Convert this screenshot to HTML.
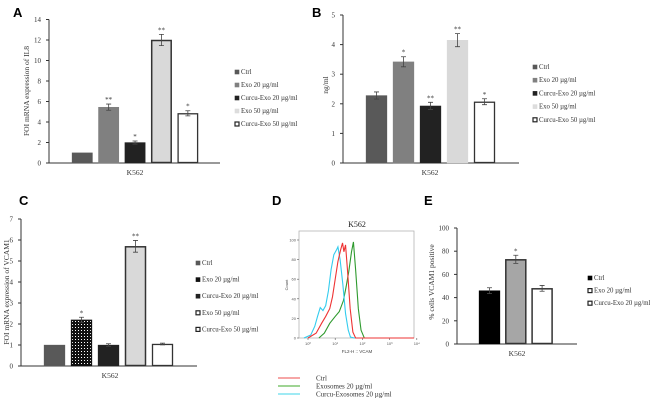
<!DOCTYPE html>
<html><head><meta charset="utf-8"><style>
html,body{margin:0;padding:0;background:#fff;}
svg{display:block;font-family:"Liberation Serif",serif;}
.pl{font-family:"Liberation Sans",sans-serif;font-weight:bold;font-size:13px;}
</style></head><body>
<svg id="fig" width="650" height="401" viewBox="0 0 650 401" xmlns="http://www.w3.org/2000/svg">
<defs>
<pattern id="dots" width="3" height="3" patternUnits="userSpaceOnUse"><rect width="3" height="3" fill="#111"/><rect x="0" y="0" width="1" height="1" fill="#fff"/></pattern>
</defs>
<text class="pl" x="13" y="17">A</text>
<text class="pl" x="312" y="17">B</text>
<text class="pl" x="19" y="205">C</text>
<text class="pl" x="272" y="205">D</text>
<text class="pl" x="424" y="205">E</text>
</svg>
<script>
const legendA = ["Ctrl","Exo 20  µg/ml","Curcu-Exo 20  µg/ml","Exo 50  µg/ml","Curcu-Exo 50  µg/ml"];
const valuesA = [1, 5.45, 2.0, 12.0, 4.85];
const errA = [0, 0.3, 0.15, 0.55, 0.25];
const starsA = ["", "**", "*", "**", "*"];
const ticksA = [0,2,4,6,8,10,12,14];
const valuesB = [2.28, 3.42, 1.93, 4.15, 2.07];
const errB = [0.12, 0.17, 0.12, 0.22, 0.1];
const starsB = ["", "*", "**", "**", "*"];
const ticksB = [0,1,2,3,4,5];
const valuesC = [1, 2.2, 1.0, 5.7, 1.05];
const errC = [0, 0.12, 0.06, 0.28, 0.04];
const starsC = ["", "*", "", "**", ""];
const ticksC = [0,1,2,3,4,5,6,7];
const legendE = ["Ctrl","Exo 20 µg/ml","Curcu-Exo  20 µg/ml"];
const valuesE = [46, 73, 48];
const errE = [2.5, 3.5, 2.5];
const starsE = ["", "*", ""];
const ticksE = [0,20,40,60,80,100];
const histCyanX = [-0.15,0.1,0.25,0.35,0.45,0.55,0.65,0.75,0.85,0.95,1.05,1.1,1.18,1.28,1.38,1.48,1.56,1.7,4.1];
const histCyanY = [0,3,12,22,31,28,33,48,70,85,90,93,80,55,25,8,1,0,0];
const histRedX = [0.0,0.3,0.5,0.65,0.8,0.9,1.0,1.1,1.2,1.27,1.32,1.38,1.45,1.55,1.65,1.75,4.1];
const histRedY = [0,5,15,22,30,42,60,78,90,97,88,95,70,30,6,0,0];
const histGreenX = [0.4,0.6,0.8,1.0,1.15,1.3,1.4,1.5,1.6,1.67,1.75,1.85,1.95,2.07,2.2];
const histGreenY = [0,5,15,22,27,38,52,68,88,98,70,30,8,0,0];
const dTicksX = [0,1,2,3,4];
const dTicksY = [0,20,40,60,80,100];

const NS="http://www.w3.org/2000/svg";
const svg=document.getElementById('fig');
function el(t,a,p){const e=document.createElementNS(NS,t);for(const k in a)e.setAttribute(k,a[k]);(p||svg).appendChild(e);return e;}
function txt(s,a,p){const e=el('text',a,p);e.textContent=s;return e;}

const styles5=[{f:"#595959",s:"#595959"},{f:"#808080",s:"#808080"},{f:"#222",s:"#222"},{f:"#d9d9d9",s:"#d9d9d9"},{f:"#fff",s:"#333"}];

function barChart(cfg){
  const g=el('g',{});
  
  
  const ys=v=>cfg.y0-(v-cfg.min)/(cfg.max-cfg.min)*(cfg.y0-cfg.yTop);
  const ax=el('path',{d:`M${cfg.ax},${cfg.yTop}V${cfg.y0}H${cfg.xEnd}`,stroke:"#333",fill:"none","stroke-width":1},g);
  
  
  cfg.ticks.forEach(t=>{
    const y=ys(t);
    el('line',{x1:cfg.ax-3,x2:cfg.ax,y1:y,y2:y,stroke:"#333","stroke-width":1},g);
    const tl=txt(String(t),{x:cfg.ax-8,y:y+2.5,"font-size":7,"text-anchor":"end",fill:"#333"},g);
    
    
  });
  cfg.values.forEach((v,i)=>{
    const x=cfg.x0+i*cfg.step, st=cfg.styles[i];
    const y=ys(v);
    const r=el('rect',{x:x+0.5,y:y+0.5,width:cfg.bw-1,height:cfg.y0-y-1,fill:st.f,stroke:st.s,"stroke-width":st.w||1.3},g);
    
    
    const e=cfg.err[i];
    if(e>0){const cx=x+cfg.bw/2;
      el('path',{d:`M${cx-2.5},${ys(v+e)}H${cx+2.5}M${cx},${ys(v+e)}V${ys(v-e)}M${cx-2.5},${ys(v-e)}H${cx+2.5}`,stroke:"#444",fill:"none","stroke-width":0.8},g);}
    if(cfg.stars[i]){const s=txt(cfg.stars[i],{x:x+cfg.bw/2,y:ys(v+e)-2,"font-size":7,"text-anchor":"middle",fill:"#333"},g);
      
      }
  });
  const xl=txt("K562",{x:cfg.xLabel,y:cfg.y0+12,"font-size":7.5,"text-anchor":"middle",fill:"#333"},g);
  
  
  if(cfg.ytitle){const yt=txt(cfg.ytitle,{x:0,y:0,"font-size":7.5,"text-anchor":"middle",fill:"#333",transform:`translate(${cfg.ytx},${cfg.yty}) rotate(-90)`},g);
    
    }
  cfg.legend.forEach((l,i)=>{
    const y=cfg.ly+i*cfg.lstep, st=cfg.lstyles[i];
    const lg=el('g',{},g);
    
    
    el('rect',{x:cfg.lx,y:y-4,width:4,height:4,fill:st.f,stroke:st.s,"stroke-width":st.lw||0.6},lg);
    txt(l,{x:cfg.lx+6,y:y,"font-size":6.8,fill:"#333"},lg);
  });
}

barChart({name:'chart-a',values:valuesA,err:errA,stars:starsA,ticks:ticksA,min:0,max:14,ax:49,xEnd:220,y0:163,yTop:19.5,x0:72,step:26.4,bw:20.5,styles:[styles5[0],styles5[1],styles5[2],{f:"#d9d9d9",s:"#333",w:1.5},styles5[4]],xLabel:135,ytitle:"FOI mRNA expression of  IL8",ytx:29,yty:91,legend:legendA,lx:235,ly:74,lstep:13,lstyles:[styles5[0],styles5[1],styles5[2],{f:"#ddd",s:"#ddd"},{f:"#fff",s:"#222",lw:1.2}]});
barChart({name:'chart-b',values:valuesB,err:errB,stars:starsB,ticks:ticksB,min:0,max:5,ax:343,xEnd:519,y0:163,yTop:15,x0:366,step:27,bw:21,styles:styles5,xLabel:430,ytitle:"ng/ml",ytx:328,yty:85,legend:legendA,lx:533,ly:69,lstep:13.2,lstyles:[styles5[0],styles5[1],styles5[2],{f:"#ddd",s:"#ddd"},{f:"#fff",s:"#222",lw:1.2}]});
barChart({name:'chart-c',values:valuesC,err:errC,stars:starsC,ticks:ticksC,min:0,max:7,ax:21,xEnd:197,y0:366,yTop:219,x0:44,step:27,bw:21,styles:[styles5[0],{f:"url(#dots)",s:"#111"},styles5[2],{f:"#d9d9d9",s:"#333",w:1.5},styles5[4]],xLabel:110,ytitle:"FOI mRNA expression of  VCAM1",ytx:9,yty:292,legend:legendA,lx:196,ly:265,lstep:16.6,lstyles:[styles5[0],{f:"#111",s:"#111"},styles5[2],{f:"#fff",s:"#222",lw:1.2},{f:"#fff",s:"#222",lw:1.2}]});
barChart({name:'chart-e',values:valuesE,err:errE,stars:starsE,ticks:ticksE,min:0,max:100,ax:457,xEnd:577,y0:344,yTop:228,x0:479,step:26.3,bw:21,styles:[{f:"#000",s:"#000"},{f:"#a6a6a6",s:"#333",w:1.5},{f:"#fff",s:"#333",w:1.5}],xLabel:517,ytitle:"% cells VCAM1 positive",ytx:434,yty:282,legend:legendE,lx:588,ly:280,lstep:12.6,lstyles:[{f:"#000",s:"#000"},{f:"#fff",s:"#222",lw:1.2},{f:"#fff",s:"#222",lw:1.2}]});

// Panel D histogram
(function(){
  const g=el('g',{});
  
  
  const bx0=299,bx1=414,by0=338,byT=231;
  const xs=l=>308+l*27.2, ys=v=>338-v*0.98;
  const box=el('rect',{x:bx0,y:byT,width:bx1-bx0,height:by0-byT,fill:"#fff",stroke:"#aaa","stroke-width":0.7},g);
  
  
  const t=txt("K562",{x:357,y:227,"font-size":8,"text-anchor":"middle",fill:"#222"},g);
  
  
  dTicksX.forEach(d=>{const x=xs(d);el('line',{x1:x,x2:x,y1:by0,y2:by0+2,stroke:"#555","stroke-width":0.6},g);
    const lb=txt("10"+["⁰","¹","²","³","⁴"][d],{x:x,y:by0+7,"font-size":4,"text-anchor":"middle",fill:"#555","font-family":"Liberation Sans"},g);
    
    });
  dTicksY.forEach(v=>{const y=ys(v);el('line',{x1:bx0-2,x2:bx0,y1:y,y2:y,stroke:"#555","stroke-width":0.6},g);
    const lb=txt(String(v),{x:bx0-3,y:y+1.5,"font-size":4,"text-anchor":"end",fill:"#555","font-family":"Liberation Sans"},g);
    
    });
  const xt=txt("FL2-H :: VCAM",{x:357,y:353,"font-size":4.5,"text-anchor":"middle",fill:"#444","font-family":"Liberation Sans"},g);
  
  
  const yt=txt("Count",{x:0,y:0,"font-size":4,"text-anchor":"middle",fill:"#444","font-family":"Liberation Sans",transform:"translate(288,285) rotate(-90)"},g);
  
  
  function line(X,Y,c,name){const pts=X.map((x,i)=>Math.min(Math.max(xs(x),bx0),bx1)+","+ys(Y[i])).join(" ");
    const p=el('polyline',{points:pts,fill:"none",stroke:c,"stroke-width":1.1},g);
    
    }
  line(histGreenX,histGreenY,"#2e9a2e","line-exosomes");
  line(histCyanX,histCyanY,"#33ccee","line-curcu-exosomes");
  line(histRedX,histRedY,"#ee3333","line-ctrl");
  const leg=[["Ctrl","#f07070"],["Exosomes 20  µg/ml","#66bb55"],["Curcu-Exosomes 20 µg/ml","#66ddee"]];
  leg.forEach((l,i)=>{const y=378+i*8;
    const lg=el('g',{});
    
    
    el('line',{x1:278,x2:300,y1:y,y2:y,stroke:l[1],"stroke-width":1.2},lg);
    txt(l[0],{x:316,y:y+2.5,"font-size":7,fill:"#333"},lg);});
})();
</script>
</body></html>
